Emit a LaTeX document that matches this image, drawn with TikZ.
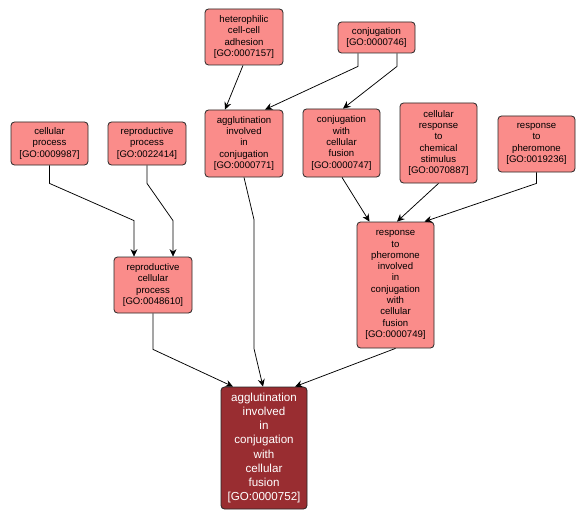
\documentclass[tikz,border=0pt]{standalone}
\usepackage{fontspec}
\setmainfont{Liberation Sans}
\usetikzlibrary{arrows.meta}
\definecolor{lightgo}{HTML}{FA8C8A}
\definecolor{maingo}{HTML}{992D31}
\tikzset{
  gobox/.style={draw=black!85, line width=0.8pt, rounded corners=3.5pt, fill=lightgo,
    inner sep=0pt, align=center, font=\fontsize{9.6}{11.3}\selectfont, text=black},
  mainbox/.style={gobox, fill=maingo, text=white, font=\fontsize{11.6}{14.1}\selectfont},
  arr/.style={draw=black, line width=0.75pt, -{Stealth[length=7.5pt,width=7pt,inset=2.5pt]}}
}
\begin{document}
\begin{tikzpicture}[x=1pt,y=-1pt]
\useasboundingbox (0,0) rectangle (587,519);
\node[gobox, minimum width=78pt, minimum height=56pt] (het) at (244,37) {heterophilic\\cell-cell\\adhesion\\{[GO:0007157]}};
\node[gobox, minimum width=77pt, minimum height=31pt] (conj) at (376.5,37.5) {conjugation\\{[GO:0000746]}};
\node[gobox, minimum width=77pt, minimum height=43pt] (cellproc) at (49.5,143.5) {cellular\\process\\{[GO:0009987]}};
\node[gobox, minimum width=78pt, minimum height=43pt] (reproproc) at (147,143.5) {reproductive\\process\\{[GO:0022414]}};
\node[gobox, minimum width=78pt, minimum height=67pt] (agg) at (244,143.5) {agglutination\\involved\\in\\conjugation\\{[GO:0000771]}};
\node[gobox, minimum width=77pt, minimum height=68pt] (cwcf) at (341.5,143) {conjugation\\with\\cellular\\fusion\\{[GO:0000747]}};
\node[gobox, minimum width=77pt, minimum height=80pt] (crcs) at (438.5,143) {cellular\\response\\to\\chemical\\stimulus\\{[GO:0070887]}};
\node[gobox, minimum width=77pt, minimum height=56pt] (rtp) at (536.5,144) {response\\to\\pheromone\\{[GO:0019236]}};
\node[gobox, minimum width=78pt, minimum height=56pt] (rcp) at (153,285) {reproductive\\cellular\\process\\{[GO:0048610]}};
\node[gobox, minimum width=77pt, minimum height=126pt] (rpi) at (395.5,285) {response\\to\\pheromone\\involved\\in\\conjugation\\with\\cellular\\fusion\\{[GO:0000749]}};
\node[mainbox, minimum width=86pt, minimum height=122pt] (main) at (264,448) {agglutination\\involved\\in\\conjugation\\with\\cellular\\fusion\\{[GO:0000752]}};
% edges
\draw[arr] ([xshift=-1pt]het.south) -- ([xshift=-19pt]agg.north);
\draw[arr] ([xshift=-18.5pt]conj.south) -- ++(0,13) -- ([xshift=21pt]agg.north);
\draw[arr] ([xshift=20.5pt]conj.south) -- ++(0,13) -- ([xshift=1.5pt]cwcf.north);
\draw[arr] (cellproc.south) -- ++(0,18) -- ([xshift=-19pt,yshift=36pt]rcp.north) -- ([xshift=-19pt]rcp.north);
\draw[arr] (reproproc.south) -- ++(0,18) -- ([xshift=20pt,yshift=36pt]rcp.north) -- ([xshift=20pt]rcp.north);
\draw[arr] (agg.south) -- ([xshift=-10pt,yshift=167pt]main.north) -- ([xshift=-10pt,yshift=38pt]main.north) -- ([xshift=-1pt]main.north);
\draw[arr] (rcp.south) -- ++(0,36) -- ([xshift=-31pt]main.north);
\draw[arr] (rpi.south) -- ([xshift=31pt]main.north);
\draw[arr] ([xshift=0.5pt]cwcf.south) -- ([xshift=-26pt]rpi.north);
\draw[arr] (crcs.south) -- ([xshift=1.5pt]rpi.north);
\draw[arr] (rtp.south) -- ++(0,11) -- ([xshift=29pt]rpi.north);
\end{tikzpicture}
\end{document}
